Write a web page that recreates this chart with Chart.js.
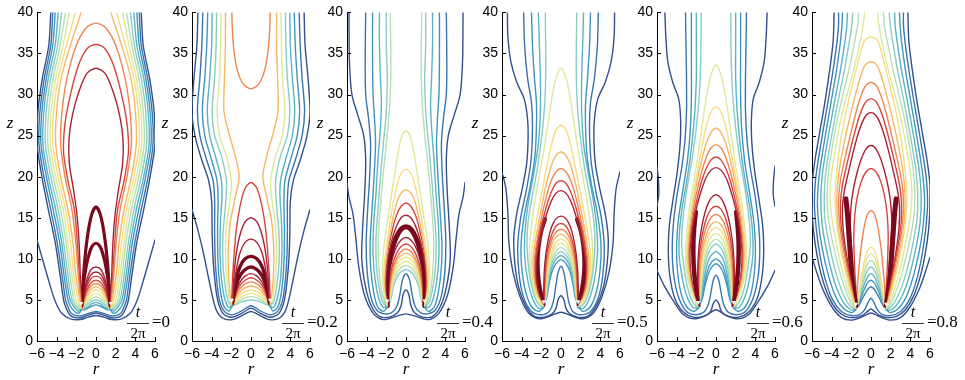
<!DOCTYPE html>
<html>
<head>
<meta charset="utf-8">
<script src="https://cdn.jsdelivr.net/npm/chart.js@4.4.0/dist/chart.umd.min.js"></script>
<style>
body{margin:0;background:#fff;width:965px;height:380px;overflow:hidden;position:relative}
canvas{position:absolute;top:0}
</style>
</head>
<body>
<script>
// phase of each panel, t/(2*pi)
const phases = ['0','0.2','0.4','0.5','0.6','0.8'];
const rTicks = [-6,-4,-2,0,2,4,6];
const zTicks = [0,5,10,15,20,25,30,35,40];
// white arrow heads at the vortex (right half, mirrored)
const arrows = [[1.5,4.6],[1.95,5.0],[1.9,4.9],[1.75,4.8],[1.8,4.7],[1.55,4.5]];

// contours: [level, 'j' = joined across r=0 | 's' = one per side, right-half r,z pairs]
const c00 = [
  [0,'j',[0,3.1, 0.8,2.9, 1.6,2.6, 2.6,2.7, 3.5,3.4, 4.2,5, 4.8,7.3, 5.4,9.8, 6,12.3]],
  [0,'j',[0,3.4, 0.9,3.1, 1.7,2.8, 2.6,3.1, 3.1,4.2, 3.3,5, 3.65,8, 4.15,12, 4.85,16, 5.5,20, 6.0,24, 5.9,28, 5.45,32, 4.8,36, 4.6,40]],
  [1,'j',[0,3.6, 0.9,3.3, 1.7,3.05, 2.5,3.35, 2.9,4.3, 3.1,5, 3.45,8, 3.95,12, 4.6,16, 5.3,20, 5.8,24, 5.7,28, 5.25,32, 4.6,36, 4.4,40]],
  [2,'s',[1.5,3.8, 1.7,3.4, 2.1,3.5, 2.6,4.2, 2.85,5, 3.25,8, 3.7,12, 4.35,16, 5.05,20, 5.6,24, 5.5,28, 5.05,32, 4.4,36, 4.15,40]],
  [3,'s',[1.5,3.8, 1.8,3.65, 2.2,4.1, 2.65,5, 3.05,8, 3.5,12, 4.1,16, 4.85,20, 5.4,24, 5.3,28, 4.85,32, 4.15,36, 3.85,40]],
  [4,'s',[1.5,3.8, 1.85,3.95, 2.45,5, 2.85,8, 3.3,12, 3.85,16, 4.6,20, 5.15,24, 5.05,28, 4.6,32, 3.9,36, 3.5,40]],
  [5,'s',[1.5,3.8, 1.8,4.2, 2.25,5, 2.65,8, 3.05,12, 3.6,16, 4.35,20, 4.9,24, 4.8,28, 4.35,32, 3.65,36, 3.1,40]],
  [6,'s',[1.5,3.8, 1.75,4.4, 2.05,5, 2.45,8, 2.85,12, 3.35,16, 4.1,20, 4.65,24, 4.55,28, 4.1,32, 3.35,36, 2.7,40]],
  [7,'s',[1.5,3.8, 1.7,4.6, 1.9,5.5, 2.25,8, 2.6,12, 3.1,16, 3.85,20, 4.4,24, 4.3,28, 3.85,32, 3.0,36, 2.1,40]],
  [8,'s',[1.5,3.8, 1.62,4.8, 1.75,5.8, 2.05,8, 2.35,12, 2.85,16, 3.6,20, 4.1,24, 4.0,28, 3.55,32, 2.6,36, 1.5,40]],
  [9,'j',[0,38.7, 1.0,38.1, 2.0,36, 2.95,32, 3.45,28, 3.6,24, 3.15,20, 2.45,16, 2.05,12, 1.8,8, 1.6,5.5, 1.5,3.8]],
  [10,'j',[0,36.1, 0.9,35.6, 1.8,33.5, 2.6,30, 3.15,26.5, 3.3,23, 2.85,19.5, 2.2,16, 1.9,12, 1.7,8, 1.55,5.5, 1.5,3.8]],
  [11,'j',[0,33.2, 0.9,32.6, 1.7,30.5, 2.4,27.5, 2.75,24.5, 2.7,21.5, 2.3,18.5, 1.95,15.5, 1.72,12, 1.6,8, 1.52,5.5, 1.5,3.8]],
  [12,'j',[0,16.3, 0.35,15.7, 0.7,14, 1.0,11.5, 1.2,9, 1.35,6.5, 1.45,4.3]],
  [12,'j',[0,11.9, 0.45,11.4, 0.85,9.9, 1.15,8, 1.35,6, 1.45,4.3]],
  [11,'j',[0,9.0, 0.5,8.7, 0.9,7.6, 1.2,6, 1.45,4.2]],
  [11,'j',[0,8.4, 0.5,8.1, 0.9,7.1, 1.2,5.7, 1.45,4.1]],
  [10,'j',[0,7.9, 0.5,7.6, 0.9,6.7, 1.2,5.4, 1.45,4.0]],
  [10,'j',[0,7.4, 0.5,7.1, 0.9,6.3, 1.2,5.2, 1.45,4.0]],
  [9,'j',[0,7.0, 0.5,6.7, 0.9,6.0, 1.2,5.0, 1.45,3.9]],
  [8,'j',[0,6.6, 0.5,6.3, 0.9,5.6, 1.2,4.8, 1.45,3.9]],
  [7,'j',[0,6.2, 0.5,5.9, 0.9,5.3, 1.2,4.6, 1.45,3.9]],
  [6,'j',[0,5.8, 0.5,5.5, 0.9,5.0, 1.2,4.4, 1.45,3.9]],
  [5,'j',[0,5.4, 0.5,5.1, 0.9,4.7, 1.2,4.2, 1.45,3.85]],
  [4,'j',[0,5.0, 0.5,4.8, 0.9,4.4, 1.2,4.0, 1.45,3.85]],
  [3,'j',[0,4.7, 0.5,4.5, 0.9,4.1, 1.2,3.9, 1.45,3.8]],
  [2,'j',[0,4.4, 0.5,4.2, 0.9,3.95, 1.2,3.8, 1.45,3.8]]
];

const c02 = [
  [0,'j',[0,3.6, 0.9,3.1, 1.9,2.6, 2.9,2.8, 3.6,4, 4.2,7, 4.8,10.5, 5.4,13.5, 6,16]],
  [0,'j',[0,4.0, 0.9,3.4, 1.9,2.9, 2.8,3.3, 3.4,5, 3.8,9, 3.95,13, 4.0,17, 4.3,19.5, 5.0,22, 5.7,25, 6.0,28, 5.8,32, 5.5,36, 5.4,40]],
  [1,'j',[0,4.3, 0.9,3.7, 1.9,3.2, 2.7,3.6, 3.25,5.2, 3.6,9, 3.7,13, 3.7,17, 3.85,19.5, 4.5,22, 5.2,25, 5.45,28, 5.2,32, 5.0,36, 4.9,40]],
  [2,'s',[1.95,4.2, 2.25,3.65, 2.75,4.2, 3.1,6, 3.35,9.5, 3.4,13.5, 3.35,17, 3.45,19.5, 4.0,22, 4.7,25, 4.95,28, 4.7,32, 4.5,36, 4.4,40]],
  [3,'s',[1.95,4.2, 2.3,4.1, 2.7,5.3, 3.0,7.5, 3.15,11, 3.1,14.5, 2.95,17.5, 3.0,19.5, 3.5,22, 4.2,25, 4.45,28, 4.2,32, 4.0,36, 3.95,40]],
  [4,'s',[1.95,4.2, 2.3,4.8, 2.6,6.5, 2.85,9.5, 2.85,13, 2.6,16.5, 2.5,19.5, 3.0,22.5, 3.7,25, 3.95,28, 3.7,32, 3.55,36, 3.5,40]],
  [6,'s',[1.95,4.2, 2.25,5.5, 2.5,8, 2.6,11, 2.45,14.5, 2.1,17.5, 2.0,19.5, 2.5,22.5, 3.2,25, 3.45,28, 3.2,32, 3.1,36, 3.05,40]],
  [8,'s',[1.95,4.2, 2.15,6, 2.3,8.5, 2.3,11.5, 2.1,14.5, 1.6,17.5, 1.2,20, 1.6,22.5, 2.3,25.5, 2.75,28, 2.7,32, 2.6,36, 2.6,40]],
  [9,'j',[0,30.7, 0.8,31.3, 1.4,33, 1.75,35.5, 1.9,38, 1.95,40]],
  [10,'j',[0,19.3, 0.6,18.6, 1.1,16.5, 1.5,13.5, 1.75,10, 1.9,7, 1.95,4.3]],
  [11,'j',[0,15.0, 0.6,14.5, 1.1,13, 1.45,11, 1.7,8.5, 1.85,6, 1.95,4.3]],
  [11,'j',[0,12.4, 0.6,12, 1.1,10.8, 1.45,9, 1.7,7, 1.9,4.5]],
  [12,'j',[0,10.3, 0.6,10, 1.1,9.1, 1.45,7.8, 1.7,6.3, 1.9,4.5]],
  [12,'j',[0,9.0, 0.6,8.7, 1.1,8.0, 1.45,7, 1.7,5.8, 1.9,4.5]],
  [11,'j',[0,8.2, 0.6,7.9, 1.1,7.2, 1.5,6.2, 1.8,5.0, 1.95,4.3]],
  [10,'j',[0,7.7, 0.6,7.4, 1.1,6.8, 1.5,5.9, 1.8,4.9, 1.95,4.3]],
  [9,'j',[0,7.2, 0.6,6.95, 1.1,6.4, 1.5,5.6, 1.8,4.8, 1.95,4.3]],
  [8,'j',[0,6.7, 0.6,6.5, 1.1,6.0, 1.5,5.3, 1.8,4.7, 1.95,4.3]],
  [7,'j',[0,6.2, 0.6,6.0, 1.1,5.6, 1.5,5.0, 1.8,4.6, 1.95,4.3]],
  [6,'j',[0,5.8, 0.6,5.6, 1.1,5.25, 1.5,4.8, 1.8,4.5, 1.95,4.3]],
  [5,'j',[0,5.4, 0.6,5.25, 1.1,4.95, 1.5,4.6, 1.8,4.4, 1.95,4.3]],
  [4,'j',[0,5.0, 0.6,4.9, 1.1,4.7, 1.5,4.45, 1.95,4.3]]
];

const c04 = [
  [0,'j',[0,3.3, 1.0,3.0, 2.3,2.6, 3.3,3.3, 4.2,5.5, 4.8,9, 5.1,12.5, 5.4,15.5, 5.8,17.5, 6,19.3]],
  [0,'j',[0,6.2, 0.3,5.6, 0.5,4.3, 0.9,3.4, 1.7,2.9, 2.7,3.0, 3.5,4.2, 4.1,6.5, 4.5,10, 4.4,14, 4.2,18, 4.1,22, 4.3,25, 4.9,27.5, 5.5,30, 5.75,34, 5.8,40]],
  [1,'j',[0,8.2, 0.35,7.5, 0.6,5.8, 0.9,4.3, 1.4,3.5, 2.2,3.3, 3.0,3.8, 3.6,5.5, 3.95,8.5, 4.05,12, 3.9,16, 3.7,20, 3.6,24, 3.8,27, 4.1,30, 4.15,34, 4.1,40]],
  [2,'s',[1.9,4.1, 2.3,3.6, 2.9,4.2, 3.3,6, 3.6,9, 3.65,12, 3.45,16, 3.25,20, 3.1,24, 3.2,27, 3.35,30, 3.4,34, 3.4,40]],
  [3,'s',[1.9,4.1, 2.35,4.1, 2.8,5.3, 3.15,7.5, 3.35,10.5, 3.3,14, 3.05,18, 2.85,22, 2.6,26, 2.5,29, 2.6,32, 2.7,36, 2.7,40]],
  [4,'s',[1.9,4.1, 2.35,4.7, 2.7,6.3, 3.0,9, 3.05,12.5, 2.85,16, 2.6,20, 2.3,24, 2.0,28, 1.9,32, 2.0,36, 2.0,40]],
  [5,'s',[1.9,4.1, 2.3,5.2, 2.6,7, 2.8,10, 2.8,13, 2.6,16.5, 2.35,20, 2.0,24, 1.7,28, 1.55,32, 1.55,36, 1.6,40]],
  [6,'j',[0,25.6, 0.4,25, 0.8,23, 1.2,20, 1.7,16, 2.2,12, 2.4,9, 2.3,6.5, 1.9,4.3]],
  [7,'j',[0,20.9, 0.5,20.4, 0.9,19, 1.35,16.5, 1.8,13, 2.15,10, 2.3,7.5, 2.2,5.5, 1.9,4.3]],
  [8,'j',[0,18.4, 0.5,18, 0.95,16.8, 1.4,14.5, 1.85,11.5, 2.15,8.5, 2.15,6, 1.9,4.3]],
  [10,'j',[0,16.8, 0.5,16.4, 1.0,15.2, 1.45,13.2, 1.9,10.5, 2.1,8, 2.1,6, 1.9,4.3]],
  [11,'j',[0,15.3, 0.5,15, 1.0,13.9, 1.5,12, 1.9,9.5, 2.05,7.5, 2.0,5.7, 1.9,4.3]],
  [12,'j',[0,13.9, 0.5,13.6, 1.0,12.6, 1.45,11, 1.8,9, 1.95,7, 1.95,5.5, 1.9,4.3]],
  [11,'j',[0,12.6, 0.5,12.3, 1.0,11.4, 1.4,10, 1.7,8.3, 1.85,6.5, 1.85,5.2, 1.9,4.3]],
  [10,'j',[0,11.8, 0.5,11.5, 0.95,10.7, 1.35,9.4, 1.6,7.9, 1.75,6.3, 1.85,4.5]],
  [9,'j',[0,11.2, 0.5,10.9, 0.9,10.2, 1.3,9, 1.55,7.6, 1.7,6.1, 1.85,4.5]],
  [8,'j',[0,10.7, 0.5,10.4, 0.9,9.8, 1.25,8.7, 1.5,7.4, 1.65,6, 1.85,4.5]],
  [7,'j',[0,10.2, 0.45,9.95, 0.85,9.4, 1.2,8.4, 1.45,7.2, 1.6,5.9, 1.8,4.5]],
  [6,'j',[0,9.7, 0.45,9.45, 0.8,9, 1.15,8.1, 1.4,7, 1.55,5.8, 1.8,4.5]],
  [5,'j',[0,9.2, 0.45,9.0, 0.8,8.5, 1.1,7.8, 1.35,6.8, 1.5,5.7, 1.75,4.5]],
  [4,'j',[0,8.7, 0.4,8.5, 0.75,8.1, 1.05,7.4, 1.3,6.6, 1.45,5.6, 1.7,4.5]]
];

const c05 = [
  [0,'j',[0,3.5, 1.0,3.1, 2.2,2.7, 3.3,3.4, 4.2,5.5, 4.9,8.5, 5.3,12, 5.4,15.5, 5.6,18.5, 6,20.6]],
  [0,'j',[0,5.5, 0.3,5.0, 0.5,4.0, 0.9,3.3, 1.7,2.9, 2.7,3.0, 3.6,4.3, 4.3,6.5, 4.7,9.5, 4.8,12.5, 4.5,15.5, 3.95,18.5, 3.5,21.5, 3.35,24.5, 3.4,27, 3.75,29.5, 4.5,31.5, 5.1,34, 5.4,37, 5.45,40]],
  [1,'j',[0,9.1, 0.3,8.3, 0.55,6.5, 0.8,4.7, 1.2,3.6, 2.0,3.2, 3.0,3.6, 3.8,5.3, 4.25,8, 4.4,11.5, 4.1,15, 3.5,18.5, 3.05,22, 2.9,26, 3.0,29, 3.4,32, 3.7,36, 3.8,40]],
  [2,'s',[1.75,4.1, 2.3,3.6, 3.0,4.2, 3.6,6, 4.0,9, 4.05,12, 3.7,15.5, 3.1,19, 2.65,22.5, 2.5,26, 2.5,29, 2.7,32, 2.9,36, 3.0,40]],
  [3,'s',[1.75,4.1, 2.3,4.0, 2.9,5.2, 3.4,7.5, 3.7,10.5, 3.65,13.5, 3.3,17, 2.75,20.5, 2.3,24, 2.1,28, 2.1,32, 2.2,36, 2.3,40]],
  [4,'s',[1.75,4.1, 2.25,4.4, 2.8,5.8, 3.25,8.5, 3.45,11.5, 3.35,14.5, 2.95,17.5, 2.4,21, 1.95,25, 1.65,29, 1.55,33, 1.6,40]],
  [6,'j',[0,33.2, 0.4,32.4, 0.8,30.5, 1.2,27.5, 1.7,23.5, 2.3,19.5, 2.85,15.5, 3.2,11.5, 3.15,8.5, 2.7,6, 2.2,4.7, 1.75,4.1]],
  [7,'j',[0,26.3, 0.5,25.7, 0.95,24, 1.45,21.2, 2.05,17.5, 2.65,13.5, 3.0,10.5, 2.95,8, 2.55,5.8, 1.75,4.1]],
  [8,'j',[0,23, 0.5,22.6, 1.0,21.3, 1.55,18.8, 2.1,15.5, 2.6,12.2, 2.85,9.8, 2.75,7.5, 2.4,5.6, 1.75,4.1]],
  [9,'j',[0,21, 0.5,20.6, 1.0,19.5, 1.55,17.3, 2.1,14.3, 2.55,11.4, 2.75,9.3, 2.65,7.2, 2.3,5.4, 1.75,4.1]],
  [10,'j',[0,19.5, 0.5,19.2, 1.0,18.1, 1.55,16.1, 2.1,13.4, 2.5,10.8, 2.65,8.9, 2.55,7, 2.2,5.3, 1.75,4.1]],
  [11,'j',[0,18.3, 0.5,18, 1.0,17, 1.55,15.1, 2.05,12.7, 2.45,10.3, 2.55,8.6, 2.45,6.8, 2.15,5.2, 1.75,4.1]],
  [12,'s',[1.65,14.8, 2.0,13.5, 2.3,11.5, 2.4,9.5, 2.3,7.5, 2.05,5.7, 1.8,4.4]],
  [11,'j',[0,15.2, 0.5,14.9, 0.95,13.9, 1.3,12.3, 1.55,10.5, 1.7,8.5, 1.75,6.5, 1.75,4.3]],
  [10,'j',[0,14.3, 0.5,14, 0.9,13.1, 1.25,11.7, 1.5,10, 1.62,8.2, 1.7,6.3, 1.75,4.3]],
  [9,'j',[0,13.6, 0.48,13.3, 0.88,12.5, 1.2,11.2, 1.45,9.6, 1.58,7.9, 1.65,6.1, 1.75,4.3]],
  [8,'j',[0,13, 0.46,12.7, 0.85,12, 1.15,10.8, 1.4,9.3, 1.52,7.7, 1.6,6, 1.75,4.3]],
  [7,'j',[0,12.4, 0.44,12.1, 0.8,11.4, 1.1,10.3, 1.35,9, 1.48,7.5, 1.58,5.9, 1.75,4.3]],
  [6,'j',[0,11.9, 0.42,11.6, 0.77,11, 1.06,10, 1.3,8.7, 1.44,7.3, 1.55,5.8, 1.75,4.3]],
  [5,'j',[0,11.4, 0.4,11.1, 0.74,10.5, 1.02,9.6, 1.25,8.4, 1.4,7.1, 1.52,5.7, 1.75,4.3]],
  [4,'j',[0,10.9, 0.38,10.6, 0.7,10.1, 0.98,9.3, 1.2,8.2, 1.36,6.9, 1.49,5.6, 1.75,4.3]],
  [3,'j',[0,10.4, 0.36,10.15, 0.66,9.7, 0.94,8.9, 1.15,7.9, 1.32,6.7, 1.46,5.5, 1.75,4.3]],
  [2,'j',[0,9.9, 0.34,9.65, 0.62,9.2, 0.9,8.5, 1.1,7.6, 1.28,6.5, 1.43,5.4, 1.75,4.3]]
];

const c06 = [
  [0,'j',[0,3.8, 0.9,3.2, 2.1,2.7, 3.3,3.2, 4.4,5, 5.3,6.8, 6,8.6]],
  [0,'s',[6,21.3, 5.85,19.5, 5.82,17.8, 6,16.4]],
  [0,'j',[0,5.0, 0.3,4.5, 0.55,3.6, 1.2,3.0, 2.3,2.9, 3.3,3.5, 4.2,5.2, 4.7,8, 4.85,11, 4.75,14, 4.4,17, 3.95,20.5, 3.65,24, 3.6,27, 3.8,29.5, 4.4,31.5, 4.9,34, 5.1,37, 5.2,40]],
  [1,'j',[0,8.0, 0.3,7.3, 0.5,6, 0.75,4.6, 1.2,3.55, 2.0,3.2, 3.0,3.6, 3.8,5.3, 4.3,8, 4.45,11, 4.35,14, 4.0,17.5, 3.5,21, 3.15,24.5, 3.0,28, 3.0,32, 3.05,36, 3.1,40]],
  [2,'s',[1.8,4.0, 2.3,3.6, 3.0,4.2, 3.6,6, 3.95,9, 4.0,12, 3.8,15, 3.35,18.5, 2.9,22, 2.6,26, 2.5,30, 2.5,35, 2.5,40]],
  [3,'s',[1.8,4.0, 2.35,4.1, 2.95,5.4, 3.4,7.5, 3.75,10.5, 3.7,13.5, 3.4,16.5, 2.9,20, 2.45,24, 2.15,28, 2.0,32, 2.0,36, 2.0,40]],
  [4,'s',[1.8,4.0, 2.3,4.6, 2.85,6.3, 3.25,9, 3.5,12, 3.35,15, 2.95,18.5, 2.45,22, 2.0,26, 1.7,30, 1.55,34, 1.5,40]],
  [6,'j',[0,33.6, 0.4,32.8, 0.8,30.8, 1.2,28, 1.6,24.5, 2.1,20.5, 2.65,16.5, 3.0,13, 3.1,10, 2.85,7.5, 2.35,5.5, 1.8,4.0]],
  [7,'j',[0,28.5, 0.5,27.9, 0.95,26.3, 1.4,23.8, 1.9,20.5, 2.45,16.6, 2.85,13, 2.98,10, 2.75,7.5, 2.3,5.5, 1.8,4.0]],
  [8,'j',[0,25.9, 0.5,25.4, 1.0,24, 1.5,21.8, 2.0,19, 2.5,15.8, 2.8,12.8, 2.88,10, 2.67,7.5, 2.25,5.4, 1.8,4.0]],
  [9,'j',[0,23.9, 0.5,23.5, 1.0,22.3, 1.5,20.4, 2.0,17.9, 2.45,15.1, 2.72,12.5, 2.8,10, 2.6,7.5, 2.2,5.3, 1.8,4.0]],
  [10,'j',[0,22.4, 0.5,22.05, 1.0,21, 1.5,19.3, 2.0,16.9, 2.42,14.4, 2.66,12, 2.72,10, 2.54,7.5, 2.16,5.3, 1.8,4.0]],
  [11,'j',[0,21.1, 0.5,20.8, 1.0,19.9, 1.5,18.3, 1.98,16.2, 2.38,13.9, 2.6,11.7, 2.65,9.8, 2.48,7.5, 2.12,5.2, 1.8,4.0]],
  [12,'s',[2.05,15.7, 2.2,14, 2.3,11.8, 2.28,9.5, 2.15,7.5, 1.95,5.6, 1.8,4.3]],
  [11,'j',[0,17.8, 0.5,17.4, 0.95,16.3, 1.35,14.5, 1.65,12.3, 1.82,10, 1.86,7.8, 1.82,5.8, 1.8,4.2]],
  [10,'j',[0,16.4, 0.5,16.05, 0.92,15.1, 1.3,13.5, 1.58,11.6, 1.75,9.6, 1.8,7.6, 1.8,5.7, 1.8,4.2]],
  [9,'j',[0,15.4, 0.48,15.07, 0.88,14.2, 1.24,12.8, 1.5,11, 1.68,9.2, 1.74,7.4, 1.76,5.6, 1.8,4.2]],
  [8,'j',[0,14.5, 0.46,14.2, 0.85,13.4, 1.18,12.1, 1.43,10.5, 1.6,8.8, 1.68,7.2, 1.72,5.5, 1.8,4.2]],
  [7,'j',[0,13.8, 0.44,13.5, 0.82,12.8, 1.13,11.6, 1.37,10.1, 1.53,8.5, 1.62,7, 1.68,5.5, 1.8,4.2]],
  [6,'j',[0,13.1, 0.42,12.8, 0.78,12.1, 1.07,11, 1.3,9.7, 1.46,8.2, 1.56,6.8, 1.64,5.4, 1.8,4.2]],
  [5,'j',[0,12.4, 0.4,12.1, 0.74,11.5, 1.02,10.5, 1.24,9.3, 1.4,7.9, 1.5,6.6, 1.6,5.3, 1.8,4.2]],
  [4,'j',[0,11.8, 0.38,11.5, 0.7,10.9, 0.97,10, 1.18,8.9, 1.34,7.7, 1.45,6.4, 1.56,5.2, 1.8,4.2]],
  [3,'j',[0,10.9, 0.36,10.6, 0.66,10.1, 0.92,9.3, 1.12,8.3, 1.28,7.2, 1.4,6.1, 1.52,5.1, 1.8,4.2]],
  [2,'j',[0,10.0, 0.34,9.75, 0.62,9.3, 0.86,8.6, 1.06,7.7, 1.22,6.8, 1.35,5.8, 1.5,5.0, 1.8,4.2]],
  [2,'j',[0,9.4, 0.32,9.15, 0.58,8.7, 0.8,8.1, 1.0,7.3, 1.16,6.5, 1.3,5.6, 1.46,4.9, 1.8,4.2]]
];

const c08 = [
  [0,'j',[0,3.4, 0.8,3.0, 1.9,2.55, 3.0,2.85, 4.0,4.2, 4.9,6.3, 5.5,8.3, 6,10.2]],
  [0,'j',[0,3.9, 0.35,3.6, 0.8,3.15, 1.6,2.85, 2.6,3.0, 3.5,3.8, 4.3,5.4, 5.0,7.8, 5.5,10.5, 5.85,13.5, 6.0,16.5, 6.0,19, 5.7,22, 5.2,25.5, 4.7,29, 4.2,33, 3.85,36.5, 3.75,40]],
  [1,'j',[0,5.2, 0.3,4.7, 0.6,3.9, 1.1,3.25, 2.0,3.1, 3.0,3.6, 3.9,5.0, 4.65,7.5, 5.2,10.5, 5.55,13.5, 5.75,16.5, 5.65,19.5, 5.3,22.5, 4.85,25.8, 4.35,29.3, 3.85,33, 3.45,36.5, 3.3,38.5, 3.3,40]],
  [2,'s',[1.55,3.8, 2.0,3.45, 2.9,4.1, 3.7,5.7, 4.4,8.3, 4.95,11.2, 5.3,14, 5.45,17, 5.3,19.8, 4.95,22.8, 4.5,26, 4.0,29.5, 3.5,33, 3.1,36.5, 2.95,38.5, 2.9,40]],
  [3,'s',[1.55,3.8, 2.1,3.8, 2.85,4.8, 3.55,6.6, 4.15,9.1, 4.65,11.8, 5.0,14.5, 5.1,17.5, 4.95,20.3, 4.6,23.1, 4.15,26.2, 3.65,29.5, 3.1,33, 2.65,36.5, 2.45,38.5, 2.4,40]],
  [4,'s',[1.55,3.8, 2.1,4.2, 2.75,5.5, 3.35,7.4, 3.9,9.8, 4.35,12.4, 4.7,15, 4.75,17.8, 4.6,20.5, 4.25,23.3, 3.8,26.3, 3.3,29.5, 2.7,33, 2.2,36.5, 1.95,38.5, 1.85,40]],
  [5,'s',[1.55,3.8, 2.05,4.6, 2.6,6.2, 3.15,8.3, 3.65,10.7, 4.1,13.2, 4.4,15.7, 4.45,18.2, 4.3,20.8, 3.95,23.5, 3.5,26.5, 2.95,29.5, 2.25,33, 1.65,36.5, 1.35,38.5, 1.25,40]],
  [6,'s',[1.55,3.8, 2.0,5.0, 2.5,6.8, 3.0,9, 3.45,11.5, 3.85,14, 4.1,16.3, 4.15,18.5, 3.95,21, 3.6,23.5, 3.15,26.5, 2.55,29.5, 1.75,33, 1.1,36.5, 0.8,38.5, 0.65,40]],
  [7,'j',[0,37, 0.7,36.5, 1.45,33.3, 2.3,29.2, 3.0,25, 3.45,21, 3.65,18, 3.55,15, 3.2,12, 2.7,9, 2.2,6.5, 1.55,3.9]],
  [8,'j',[0,34, 0.65,33.5, 1.35,31, 2.1,27.5, 2.8,23.7, 3.3,20.2, 3.47,17.3, 3.38,14.5, 3.05,11.8, 2.6,9, 2.1,6.5, 1.55,3.9]],
  [9,'j',[0,31.5, 0.6,31, 1.25,29, 1.95,25.8, 2.6,22.5, 3.1,19.6, 3.3,17, 3.2,14.4, 2.9,11.8, 2.45,9, 2.0,6.5, 1.55,3.9]],
  [10,'j',[0,29.5, 0.6,29, 1.2,27.3, 1.85,24.5, 2.45,21.5, 2.9,19, 3.1,16.8, 3.05,14.2, 2.75,11.6, 2.35,9, 1.95,6.5, 1.55,3.9]],
  [11,'j',[0,27.8, 0.6,27.3, 1.15,25.8, 1.75,23.3, 2.3,20.5, 2.7,18.3, 2.9,16.3, 2.85,13.8, 2.6,11.3, 2.25,8.8, 1.9,6.4, 1.55,3.9]],
  [12,'s',[2.55,17.3, 2.4,15.5, 2.25,13, 2.1,10.5, 1.95,8, 1.75,6, 1.55,4.3]],
  [11,'j',[0,23.8, 0.55,23.3, 1.1,21.8, 1.6,19.6, 1.95,17.3, 2.1,15, 2.05,12.5, 1.9,10, 1.75,7.5, 1.6,5.5, 1.5,4.2]],
  [10,'j',[0,21, 0.5,20.6, 1.0,19.4, 1.4,17.5, 1.65,15.3, 1.75,12.8, 1.7,10.2, 1.6,7.6, 1.5,5.5, 1.45,4.2]],
  [9,'j',[0,15.9, 0.4,15.3, 0.75,13.5, 1.05,11, 1.25,8.5, 1.4,6.3, 1.45,4.3]],
  [7,'j',[0,11.4, 0.4,10.9, 0.7,9.6, 0.95,8, 1.15,6.5, 1.35,5, 1.45,4.2]],
  [6,'j',[0,10.6, 0.38,10.1, 0.68,9, 0.92,7.6, 1.12,6.2, 1.32,4.9, 1.45,4.2]],
  [5,'j',[0,9.8, 0.36,9.35, 0.66,8.4, 0.9,7.2, 1.1,6, 1.3,4.8, 1.45,4.2]],
  [4,'j',[0,9.0, 0.35,8.6, 0.64,7.8, 0.88,6.8, 1.08,5.8, 1.28,4.7, 1.45,4.2]],
  [3,'j',[0,8.2, 0.34,7.85, 0.62,7.1, 0.86,6.3, 1.06,5.5, 1.26,4.6, 1.45,4.15]],
  [2,'j',[0,7.4, 0.33,7.1, 0.6,6.5, 0.84,5.8, 1.04,5.2, 1.24,4.5, 1.45,4.1]],
  [1,'j',[0,6.6, 0.32,6.3, 0.58,5.8, 0.82,5.3, 1.02,4.8, 1.24,4.3, 1.45,4.05]]
];

const panels = [c00, c02, c04, c05, c06, c08];

// styles
const levelColors = ['#34508e','#3a74ae','#3f96bf','#5bb4c2','#8acdc4','#b6e0b3','#dde99b',
                     '#f6dd84','#f7b763','#ee8450','#d4453f','#a82236','#780a1e'];
const thickWidth = [3.2, 3.4, 5, 4.5, 4.5, 5];
const plotLeft = [37, 192, 347, 502, 657, 812];

function toPoints(p) {
  const pts = [];
  for (let i = 0; i < p.length; i += 2) pts.push({x: p[i], y: p[i + 1]});
  return pts;
}

function buildSets(list, k) {
  const sets = [];
  list.forEach(([lv, kind, p]) => {
    const right = toPoints(p);
    const left = right.map(q => ({x: -q.x, y: q.y})).reverse();
    const style = {
      borderColor: levelColors[lv],
      borderWidth: lv === 12 ? thickWidth[k] : 1.4,
      showLine: true, pointRadius: 0, tension: 0.3, fill: false,
      borderCapStyle: 'round', borderJoinStyle: 'round'
    };
    if (kind === 'j') {
      sets.push({...style, data: left.concat(right.slice(1))});
    } else {
      sets.push({...style, data: left});
      sets.push({...style, data: right});
    }
  });
  const [ar, az] = arrows[k];
  sets.unshift({
    data: [{x: -ar, y: az}, {x: ar, y: az}], showLine: false,
    pointStyle: 'triangle', rotation: 180, pointRadius: 2.6,
    backgroundColor: '#fff', borderColor: '#fff', borderWidth: 0
  });
  return sets;
}

// inward ticks, z label and t/2pi annotation
const decor = {
  id: 'decor',
  afterDraw(chart, args, opts) {
    const {ctx, chartArea: a, scales: {x, y}} = chart;
    ctx.save();
    ctx.strokeStyle = '#000';
    ctx.lineWidth = 1;
    ctx.beginPath();
    rTicks.forEach(v => {
      const px = Math.round(x.getPixelForValue(v)) + 0.5;
      ctx.moveTo(px, a.bottom); ctx.lineTo(px, a.bottom - 4);
    });
    zTicks.forEach(v => {
      const py = Math.round(y.getPixelForValue(v)) + 0.5;
      ctx.moveTo(a.left, py); ctx.lineTo(a.left + 4, py);
    });
    ctx.stroke();

    ctx.fillStyle = '#000';
    ctx.textAlign = 'center';
    ctx.textBaseline = 'middle';
    ctx.font = 'italic 17px "Liberation Serif", serif';
    ctx.fillText('z', a.left - 27, y.getPixelForValue(26.5));

    const cx = a.right - 17, by = a.bottom - 18;
    ctx.font = 'italic 16px "Liberation Serif", serif';
    ctx.fillText('t', cx, by - 10);
    ctx.font = '15px "Liberation Serif", serif';
    ctx.fillText('2\u03c0', cx, by + 11);
    ctx.beginPath();
    ctx.lineWidth = 0.8;
    ctx.moveTo(a.right - 28, by + 0.5); ctx.lineTo(a.right - 6, by + 0.5);
    ctx.stroke();
    ctx.textAlign = 'left';
    ctx.font = '17px "Liberation Serif", serif';
    ctx.fillText('=' + phases[opts.k], a.right - 3, by);
    ctx.restore();
  }
};

const tickFont = {family: '"Liberation Sans", Arial, sans-serif', size: 14};

panels.forEach((list, k) => {
  const cv = document.createElement('canvas');
  cv.width = 195; cv.height = 380;
  cv.style.left = (plotLeft[k] - 37) + 'px';
  document.body.appendChild(cv);

  new Chart(cv, {
    type: 'scatter',
    data: {datasets: buildSets(list, k)},
    plugins: [decor],
    options: {
      responsive: false,
      animation: false,
      devicePixelRatio: 1,
      layout: {padding: {top: 12, right: 40, left: 0, bottom: 0}},
      plugins: {legend: {display: false}, tooltip: {enabled: false}, decor: {k: k}},
      scales: {
        x: {
          type: 'linear', min: -6, max: 6,
          afterBuildTicks: s => { s.ticks = rTicks.map(v => ({value: v})); },
          afterFit: s => { s.height = 39; },
          grid: {display: true, drawOnChartArea: false, drawTicks: false},
          border: {color: '#000', width: 1},
          ticks: {padding: 5, color: '#000', font: tickFont, maxRotation: 0, autoSkip: false,
                  callback: v => String(v).replace('-', '\u2212')},
          title: {display: true, text: 'r', color: '#000', padding: 0,
                  font: {family: '"Liberation Serif", serif', style: 'italic', size: 17}}
        },
        y: {
          type: 'linear', min: 0, max: 40,
          afterBuildTicks: s => { s.ticks = zTicks.map(v => ({value: v})); },
          afterFit: s => { s.width = 37; },
          grid: {display: true, drawOnChartArea: false, drawTicks: false},
          border: {color: '#000', width: 1},
          ticks: {padding: 4, color: '#000', font: tickFont, autoSkip: false}
        }
      }
    }
  });
});
</script>
</body>
</html>
